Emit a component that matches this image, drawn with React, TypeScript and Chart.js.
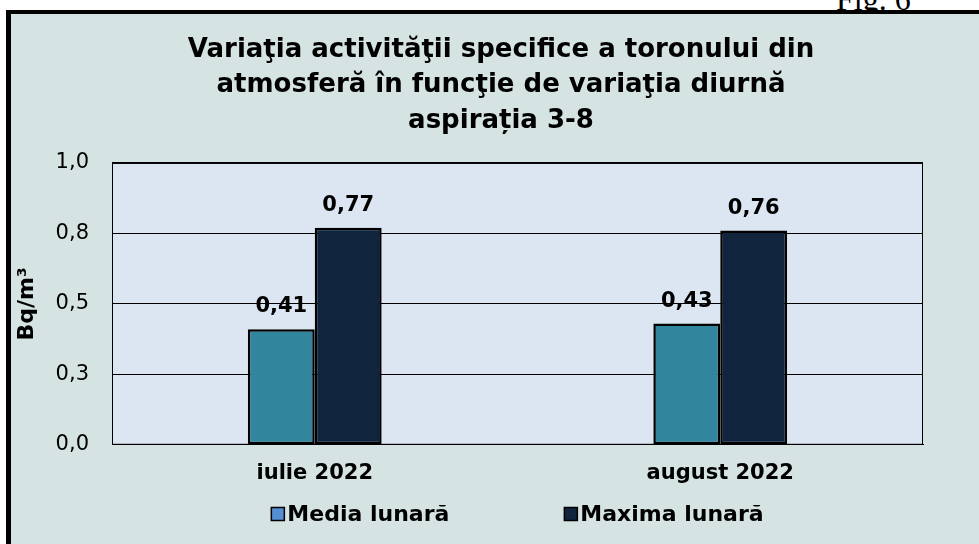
import React, { useEffect, useRef } from "react";
import { Chart, registerables } from "chart.js";

Chart.register(...registerables);

const categories = ["iulie 2022", "august 2022"];
const seriesNames = ["Media lunară", "Maxima lunară"];
const mediaLunara = [0.41, 0.43];
const maximaLunara = [0.77, 0.76];
const yTickValues = [0, 0.25, 0.5, 0.75, 1.0];
const yTickLabels = ["0,0", "0,3", "0,5", "0,8", "1,0"];
const titleLines = [
  "Variaţia activităţii specifice a toronului din",
  "atmosferă în funcţie de variaţia diurnă",
  "aspirația 3-8",
];
const yAxisTitle = "Bq/m³";

const FONT = "DejaVu Sans";
const barColors = ["#31859C", "#10243E"];
const legendColors = ["#558ED5", "#10243E"];

const PAD_LEFT = 12;

const plotBackground = {
  id: "plotBackground",
  beforeDraw(chart: any) {
    const { ctx, chartArea: a } = chart;
    ctx.save();
    ctx.fillStyle = "#DCE6F2";
    ctx.fillRect(a.left, a.top, a.right - a.left, a.bottom - a.top);
    ctx.restore();
  },
};

const plotBorder = {
  id: "plotBorder",
  beforeDatasetsDraw(chart: any) {
    const { ctx, chartArea: a } = chart;
    ctx.save();
    ctx.strokeStyle = "#000";
    ctx.lineWidth = 1;
    ctx.strokeRect(a.left + 0.5, a.top + 0.5, a.right - a.left - 1, a.bottom - a.top - 1);
    ctx.restore();
  },
};

const dataLabels = {
  id: "dataLabels",
  afterDatasetsDraw(chart: any) {
    const { ctx } = chart;
    ctx.save();
    ctx.font = `bold 21px "${FONT}"`;
    ctx.fillStyle = "#000";
    ctx.textAlign = "center";
    ctx.textBaseline = "alphabetic";
    chart.data.datasets.forEach((ds: any, di: number) => {
      const meta = chart.getDatasetMeta(di);
      meta.data.forEach((bar: any, i: number) => {
        const v = ds.data[i] as number;
        ctx.fillText(v.toFixed(2).replace(".", ","), bar.x, bar.y - 17);
      });
    });
    ctx.restore();
  },
};

const customLegend = {
  id: "customLegend",
  afterDraw(chart: any) {
    const { ctx, chartArea: a } = chart;
    ctx.save();
    ctx.font = `bold 22px "${FONT}"`;
    const box = 13;
    const gapBoxText = 3;
    const gapItems = 115;
    const widths = seriesNames.map((n) => box + gapBoxText + ctx.measureText(n).width);
    const total = widths.reduce((s, w) => s + w, 0) + gapItems * (seriesNames.length - 1);
    let x = (a.left + a.right) / 2 - total / 2;
    const y = chart.height - 30;
    seriesNames.forEach((name, i) => {
      ctx.fillStyle = legendColors[i];
      ctx.fillRect(x, y - box / 2, box, box);
      ctx.strokeStyle = "#000";
      ctx.lineWidth = 1.5;
      ctx.strokeRect(x, y - box / 2, box, box);
      ctx.fillStyle = "#000";
      ctx.textAlign = "left";
      ctx.textBaseline = "middle";
      ctx.fillText(name, x + box + gapBoxText, y + 1);
      x += widths[i] + gapItems;
    });
    ctx.restore();
  },
};

function ChartView() {
  const ref = useRef<HTMLCanvasElement | null>(null);
  useEffect(() => {
    if (!ref.current) return;
    const chart = new Chart(ref.current, {
      type: "bar",
      data: {
        labels: categories,
        datasets: [
          {
            label: seriesNames[0],
            data: mediaLunara,
            backgroundColor: barColors[0],
            borderColor: "#000",
            borderWidth: 2.5,
            borderSkipped: false,
          },
          {
            label: seriesNames[1],
            data: maximaLunara,
            backgroundColor: barColors[1],
            borderColor: "#000",
            borderWidth: 2.5,
            borderSkipped: false,
          },
        ],
      },
      options: {
        responsive: false,
        maintainAspectRatio: false,
        animation: false,
        layout: { padding: { left: PAD_LEFT, right: 0, top: 0, bottom: 42 } },
        datasets: {
          bar: { categoryPercentage: 0.33, barPercentage: 1 },
        },
        plugins: {
          legend: { display: false },
          tooltip: { enabled: false },
          title: {
            display: true,
            text: titleLines,
            color: "#000",
            font: { family: FONT, size: 26, weight: "bold", lineHeight: 1.37 },
            padding: { top: 18, bottom: 24.1 },
          },
        },
        scales: {
          x: {
            grid: { display: false, drawTicks: false },
            border: { display: true, color: "#000", width: 1 },
            ticks: {
              color: "#000",
              padding: 16,
              font: { family: FONT, size: 21, weight: "bold" },
            },
          },
          y: {
            min: 0,
            max: 1,
            afterBuildTicks(scale: any) {
              scale.ticks = yTickValues.map((v) => ({ value: v }));
            },
            afterFit(scale: any) {
              scale.width = 101 - PAD_LEFT;
            },
            grid: { color: "#000", lineWidth: 1, drawTicks: false },
            border: { display: true, color: "#000", width: 1 },
            ticks: {
              color: "#000",
              padding: 23,
              font: { family: FONT, size: 21 },
              callback: (_v: any, i: number) => yTickLabels[i],
            },
            title: {
              display: true,
              text: yAxisTitle,
              color: "#000",
              font: { family: FONT, size: 22, weight: "bold" },
              padding: { top: -9, bottom: 0 },
            },
          },
          yRightSpace: {
            position: "right",
            display: true,
            min: 0,
            max: 1,
            afterFit(scale: any) {
              scale.width = 56;
            },
            grid: { display: false, drawTicks: false },
            border: { display: false },
            ticks: { display: false },
          },
        },
      },
      plugins: [plotBackground, plotBorder, dataLabels, customLegend],
    });
    return () => chart.destroy();
  }, []);
  return <canvas ref={ref} width={968} height={530} style={{ display: "block" }} />;
}

export default function App() {
  return (
    <div
      style={{
        position: "fixed",
        left: 0,
        top: 0,
        width: 979,
        height: 544,
        background: "#fff",
        overflow: "hidden",
      }}
    >
      <div
        style={{
          position: "absolute",
          left: 836,
          top: -17,
          fontFamily: '"Liberation Serif", serif',
          fontSize: 32,
          lineHeight: "32px",
          color: "#000",
          whiteSpace: "nowrap",
        }}
      >
        Fig. 6
      </div>
      <div
        style={{
          position: "absolute",
          left: 6,
          top: 10,
          width: 973,
          height: 534,
          boxSizing: "border-box",
          borderLeft: "5px solid #000",
          borderTop: "4px solid #000",
          background: "#D6E3E3",
        }}
      >
        <ChartView />
      </div>
    </div>
  );
}
